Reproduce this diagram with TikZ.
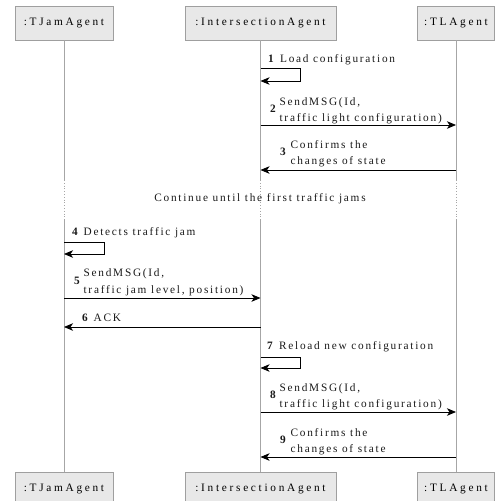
\documentclass[tikz,border=0pt]{standalone}
\usepackage{fontspec}
\setmainfont{Liberation Serif}[LetterSpace=15.5]
\newfontfamily\agentfont{Liberation Serif}[LetterSpace=24]
\usetikzlibrary{arrows.meta}

\tikzset{
  agent/.style={draw=gray!75, fill=gray!18, line width=0.8pt, minimum height=34pt,
    inner sep=0pt, font=\agentfont\fontsize{11.3}{16.5}\selectfont},
  life/.style={draw=gray!70, line width=0.8pt},
  msg/.style={draw=black, line width=0.8pt,
    -{Stealth[length=9pt,width=7.5pt,inset=2.5pt]}},
  lbl/.style={anchor=west, inner sep=0pt, text=black!90,
    font=\fontsize{11.3}{16.5}\selectfont},
}

\begin{document}
\begin{tikzpicture}[x=1pt, y=-1pt]
  \useasboundingbox (0,0) rectangle (495,501);
  % Agents, top row
  \node[agent, minimum width=98pt] (tjT) at (64,23) {:TJamAgent};
  \node[agent, minimum width=151pt] (iaT) at (260.5,23) {:IntersectionAgent};
  \node[agent, minimum width=77pt] (tlT) at (456,23) {:TLAgent};
  % Agents, bottom row
  \node[agent, minimum width=98pt] (tjB) at (64,489) {:TJamAgent};
  \node[agent, minimum width=151pt] (iaB) at (260.5,489) {:IntersectionAgent};
  \node[agent, minimum width=77pt] (tlB) at (456,489) {:TLAgent};
  % Lifelines, broken by a dotted gap
  \foreach \a in {tj, ia, tl} {
    \coordinate (\a G1) at (\a T |- 0,180);
    \coordinate (\a G2) at (\a T |- 0,220);
    \draw[life] (\a T) -- (\a G1);
    \draw[life, dotted, line width=0.6pt] (\a G1) -- (\a G2);
    \draw[life] (\a G2) -- (\a B);
  }
  \node[lbl, anchor=center] (cont) at (260,199) {Continue until the first traffic jams};

  % 1 Load configuration
  \coordinate (m1a) at (iaT |- 0,68);
  \coordinate (m1b) at (iaT |- 0,81);
  \draw[msg] (m1a) -- ++(40,0) |- (m1b);
  \node[lbl] (l1) at (268,60) {\textbf{1}\hspace{4.5pt}Load configuration};
  % 2 SendMSG to TL
  \coordinate (m2a) at (iaT |- 0,125);
  \coordinate (m2b) at (tlT |- 0,125);
  \draw[msg] (m2a) -- (m2b);
  \node[lbl] (l2) at (270,110) {\textbf{2}\hspace{2pt}\begin{tabular}[c]{@{}l@{}}SendMSG(Id,\\traffic light configuration)\end{tabular}};
  % 3 Confirms
  \coordinate (m3a) at (tlT |- 0,170);
  \coordinate (m3b) at (iaT |- 0,170);
  \draw[msg] (m3a) -- (m3b);
  \node[lbl] (l3) at (280,153) {\textbf{3}\hspace{3pt}\begin{tabular}[c]{@{}l@{}}Confirms the\\changes of state\end{tabular}};
  % 4 Detects traffic jam
  \coordinate (m4a) at (tjT |- 0,242);
  \coordinate (m4b) at (tjT |- 0,254);
  \draw[msg] (m4a) -- ++(40,0) |- (m4b);
  \node[lbl] (l4) at (72,233) {\textbf{4}\hspace{4pt}Detects traffic jam};
  % 5 SendMSG to Intersection
  \coordinate (m5a) at (tjT |- 0,298);
  \coordinate (m5b) at (iaT |- 0,298);
  \draw[msg] (m5a) -- (m5b);
  \node[lbl] (l5) at (74,281.5) {\textbf{5}\hspace{2pt}\begin{tabular}[c]{@{}l@{}}SendMSG(Id,\\traffic jam level, position)\end{tabular}};
  % 6 ACK
  \coordinate (m6a) at (iaT |- 0,327);
  \coordinate (m6b) at (tjT |- 0,327);
  \draw[msg] (m6a) -- (m6b);
  \node[lbl] (l6) at (82,318) {\textbf{6}\hspace{4pt}ACK};
  % 7 Reload new configuration
  \coordinate (m7a) at (iaT |- 0,357);
  \coordinate (m7b) at (iaT |- 0,368);
  \draw[msg] (m7a) -- ++(40,0) |- (m7b);
  \node[lbl] (l7) at (267,347) {\textbf{7}\hspace{4.5pt}Reload new configuration};
  % 8 SendMSG to TL
  \coordinate (m8a) at (iaT |- 0,412);
  \coordinate (m8b) at (tlT |- 0,412);
  \draw[msg] (m8a) -- (m8b);
  \node[lbl] (l8) at (270,396) {\textbf{8}\hspace{2pt}\begin{tabular}[c]{@{}l@{}}SendMSG(Id,\\traffic light configuration)\end{tabular}};
  % 9 Confirms
  \coordinate (m9a) at (tlT |- 0,457);
  \coordinate (m9b) at (iaT |- 0,457);
  \draw[msg] (m9a) -- (m9b);
  \node[lbl] (l9) at (280,441) {\textbf{9}\hspace{3pt}\begin{tabular}[c]{@{}l@{}}Confirms the\\changes of state\end{tabular}};
\end{tikzpicture}
\end{document}
